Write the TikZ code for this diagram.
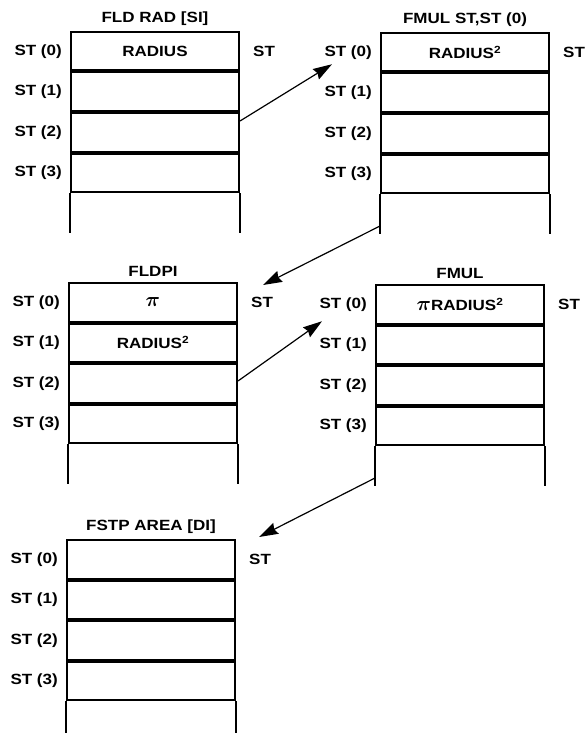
\documentclass[tikz,border=0pt]{standalone}
\usepackage{fontspec}
\usepackage{bm}
\setmainfont{Liberation Sans}[FakeStretch=1.15]
\usetikzlibrary{arrows.meta}
\newcommand{\bigpi}{\scalebox{1.4}{$\bm{\pi}$}}
\tikzset{
  cell/.style={draw, line width=2pt, minimum width=168pt, minimum height=38.5pt, inner sep=0pt, anchor=north west},
  tail/.style={line width=2pt},
  lbl/.style={anchor=east, inner sep=0pt},
  stlbl/.style={anchor=west, inner sep=0pt},
  ttl/.style={anchor=south, inner sep=0pt},
  conn/.style={line width=1.2pt, -{Stealth[length=19pt, width=12pt, inset=2pt]}},
}
\newcommand{\stk}[6]{% name, x, y, title, c0, c1
  \node[cell] (#1r0) at (#2,#3) {#5};
  \node[cell] (#1r1) at (#1r0.south west) {#6};
  \node[cell] (#1r2) at (#1r1.south west) {};
  \node[cell] (#1r3) at (#1r2.south west) {};
  \coordinate (#1bl) at ([yshift=-40pt]#1r3.south west);
  \coordinate (#1br) at ([yshift=-40pt]#1r3.south east);
  \draw[tail] (#1r3.south west) -- (#1bl);
  \draw[tail] (#1r3.south east) -- (#1br);
  \node[ttl] (#1t) at ([yshift=5pt]#1r0.north) {#4};
  \node[lbl] (#1l0) at ([xshift=-8pt]#1r0.west) {ST (0)};
  \node[lbl] (#1l1) at ([xshift=-8pt]#1r1.west) {ST (1)};
  \node[lbl] (#1l2) at ([xshift=-8pt]#1r2.west) {ST (2)};
  \node[lbl] (#1l3) at ([xshift=-8pt]#1r3.west) {ST (3)};
  \node[stlbl] (#1st) at ([xshift=13pt]#1r0.east) {ST};
}
\begin{document}
\begin{tikzpicture}[x=1pt, y=-1pt, font=\fontsize{14.8}{16}\selectfont\bfseries]
\useasboundingbox (0,0) rectangle (585,733);
\stk{a}{70}{31}{FLD RAD [SI]}{RADIUS}{}
\stk{b}{380}{32}{FMUL ST,ST (0)}{RADIUS\textsuperscript{2}}{}
\stk{c}{68}{282}{FLDPI}{\bigpi}{RADIUS\textsuperscript{2}}
\stk{d}{375}{284}{FMUL}{\bigpi RADIUS\textsuperscript{2}}{}
\stk{e}{66}{539}{FSTP AREA [DI]}{}{}
\coordinate (a1s) at ([yshift=-9pt]ar2.north east);
\coordinate (a1e) at ([xshift=-48pt,yshift=-12pt]br0.west);
\draw[conn] (a1s) -- (a1e);
\coordinate (a2s) at ([yshift=8pt]bbl);
\coordinate (a2e) at ([xshift=25pt,yshift=-3pt]cr0.north east);
\draw[conn] (a2s) -- (a2e);
\coordinate (a3s) at ([yshift=-18pt]cr2.north east);
\coordinate (a3e) at ([xshift=-53pt,yshift=-17pt]dr0.west);
\draw[conn] (a3s) -- (a3e);
\coordinate (a4s) at ([yshift=8pt]dbl);
\coordinate (a4e) at ([xshift=23pt,yshift=2pt]er0.north east);
\draw[conn] (a4s) -- (a4e);
\end{tikzpicture}
\end{document}
